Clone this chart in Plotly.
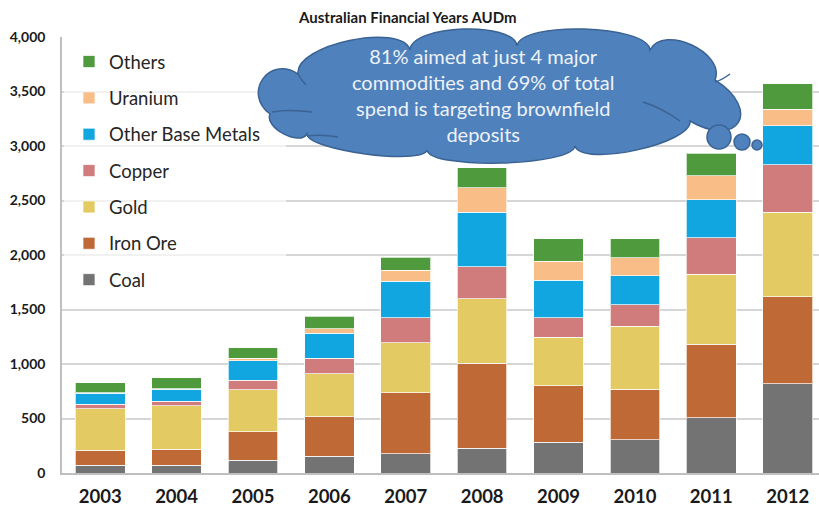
import plotly.graph_objects as go

years = ["2003", "2004", "2005", "2006", "2007", "2008", "2009", "2010", "2011", "2012"]
series_names = ["Coal", "Iron Ore", "Gold", "Copper", "Other Base Metals", "Uranium", "Others"]
coal = [70, 70, 115, 155, 175, 225, 280, 305, 505, 820]
iron_ore = [140, 150, 265, 360, 560, 780, 520, 465, 675, 795]
gold = [380, 395, 385, 395, 460, 595, 445, 575, 645, 775]
copper = [40, 45, 85, 145, 230, 290, 180, 200, 335, 440]
other_base = [100, 110, 180, 225, 335, 500, 345, 265, 345, 355]
uranium = [5, 5, 25, 45, 100, 225, 175, 165, 220, 150]
others = [95, 100, 95, 115, 120, 185, 205, 175, 210, 235]
y_ticks = [0, 500, 1000, 1500, 2000, 2500, 3000, 3500, 4000]

values = [coal, iron_ore, gold, copper, other_base, uranium, others]
colors = ["#737373", "#bf6a36", "#e3ca62", "#d07c7c", "#12a6e0", "#f9be88", "#4e9a3c"]

W, H = 819, 508
ML, MR, MT, MB = 62, 0, 37, 35
PW, PH = W - ML - MR, H - MT - MB

fig = go.Figure()
for i, (name, vals, col) in enumerate(zip(series_names, values, colors)):
    fig.add_trace(go.Bar(
        x=years, y=vals, name=name, legendgroup=name, legendrank=100 - i,
        marker=dict(color=col, line=dict(color="rgba(255,255,255,0.7)", width=1)),
    ))

def px2paper(x, y):
    return (x - ML) / PW, (H - MB - y) / PH

# translucent legend panel (drawn as a shape so the callout can sit above it)
a = px2paper(64, 302)
b = px2paper(286, 39)
fig.add_shape(type="rect", xref="paper", yref="paper", x0=a[0], y0=a[1], x1=b[0], y1=b[1],
              fillcolor="rgba(255,255,255,0.65)", line=dict(width=0), layer="above")

# cloud outline (decorative callout): concave points and lobe heights, in pixels
cloud_pts = [(298, 74), (410, 50), (517, 46), (650, 50), (715, 80), (690, 121),
             (575, 146), (427, 150), (307, 134), (270, 114)]
lobes = [22, 19, 19, 22, 42, 17, 15, 12, 11, 26]
cx, cy = 501, 95
path = ""
n = len(cloud_pts)
for i in range(n):
    x0, y0 = cloud_pts[i]
    x1, y1 = cloud_pts[(i + 1) % n]
    dx, dy = x1 - x0, y1 - y0
    L = (dx * dx + dy * dy) ** 0.5
    nx, ny = dy / L, -dx / L
    mx, my = (x0 + x1) / 2, (y0 + y1) / 2
    if (mx - cx) * nx + (my - cy) * ny < 0:
        nx, ny = -nx, -ny
    d = lobes[i] / 0.75
    c1 = (x0 + dx * 0.02 + nx * d, y0 + dy * 0.02 + ny * d)
    c2 = (x0 + dx * 0.98 + nx * d, y0 + dy * 0.98 + ny * d)
    p0 = px2paper(x0, y0)
    q1 = px2paper(*c1)
    q2 = px2paper(*c2)
    p1 = px2paper(x1, y1)
    if i == 0:
        path += f"M{p0[0]:.4f},{p0[1]:.4f} "
    path += f"C{q1[0]:.4f},{q1[1]:.4f} {q2[0]:.4f},{q2[1]:.4f} {p1[0]:.4f},{p1[1]:.4f} "
path += "Z"
fig.add_shape(type="path", path=path, xref="paper", yref="paper",
              fillcolor="#4f81bd", line=dict(color="#3a6394", width=1.5), layer="above")

# inner arcs of the cloud
inner = [[(272, 112), (290, 109), (312, 112)], [(307, 136), (322, 134), (338, 137)],
         [(643, 102), (662, 108), (680, 121)], [(715, 82), (722, 80), (730, 74)],
         [(298, 74), (301, 80), (306, 85)]]
for seg in inner:
    p, q, r = [px2paper(*pt) for pt in seg]
    fig.add_shape(type="path", xref="paper", yref="paper",
                  path=f"M{p[0]:.4f},{p[1]:.4f} Q{q[0]:.4f},{q[1]:.4f} {r[0]:.4f},{r[1]:.4f}",
                  line=dict(color="#3a6394", width=1.5), layer="above")

# thought bubbles
for (bx, by, r) in [(719, 137, 12), (742, 142, 8), (757, 145, 5)]:
    p = px2paper(bx - r, by + r)
    q = px2paper(bx + r, by - r)
    fig.add_shape(type="circle", xref="paper", yref="paper", x0=p[0], y0=p[1], x1=q[0], y1=q[1],
                  fillcolor="#4f81bd", line=dict(color="#3a6394", width=1.5), layer="above")

tx, ty = px2paper(483, 95)
fig.add_annotation(
    x=tx, y=ty, xref="paper", yref="paper", showarrow=False, xanchor="center", yanchor="middle",
    text="81% aimed at just 4 major<br>commodities and 69% of total<br>spend is targeting brownfield<br>deposits",
    font=dict(family="Lato", size=20, color="#eef2f8"), align="center",
)

title_x, title_y = px2paper(407, 17)
fig.add_annotation(
    x=title_x, y=title_y, xref="paper", yref="paper", showarrow=False,
    xanchor="center", yanchor="middle",
    text="<b>Australian Financial Years AUDm</b>",
    font=dict(family="Lato", size=15, color="#1a1a1a"),
)

lx, ly = px2paper(69, 43)
fig.update_layout(
    width=W, height=H,
    margin=dict(l=ML, r=MR, t=MT, b=MB),
    barmode="stack", bargap=0.35,
    plot_bgcolor="white", paper_bgcolor="white",
    font=dict(family="Lato", color="#1a1a1a"),
    showlegend=True,
    legend=dict(
        x=lx, y=ly, xanchor="left", yanchor="top",
        traceorder="grouped", tracegroupgap=9.3,
        bgcolor="rgba(0,0,0,0)",
        font=dict(family="Lato", size=18.5, color="#262626"),
    ),
    xaxis=dict(
        range=[-0.5, 9.41], showline=True, linecolor="#bfbfbf", linewidth=1.5,
        tickfont=dict(family="Lato", size=18.5, color="#1a1a1a", weight="bold"),
        ticks="", ticklabelstandoff=6, automargin=False,
    ),
    yaxis=dict(
        range=[0, 4000], tickvals=y_ticks, tickformat=",",
        showline=True, linecolor="#bfbfbf", linewidth=1.5,
        gridcolor="#d6d6d6", gridwidth=1.5, zeroline=False,
        tickfont=dict(family="Lato", size=14, color="#1a1a1a", weight="bold"),
        ticks="", ticklabelstandoff=12, automargin=False,
    ),
)

fig.write_html("out.html", config={"displayModeBar": False})
with open("out.html", "r", encoding="utf-8") as f:
    html = f.read()
html = html.replace("<head>", "<head><style>html,body{margin:0;padding:0;overflow:hidden;}</style>", 1)
with open("out.html", "w", encoding="utf-8") as f:
    f.write(html)
